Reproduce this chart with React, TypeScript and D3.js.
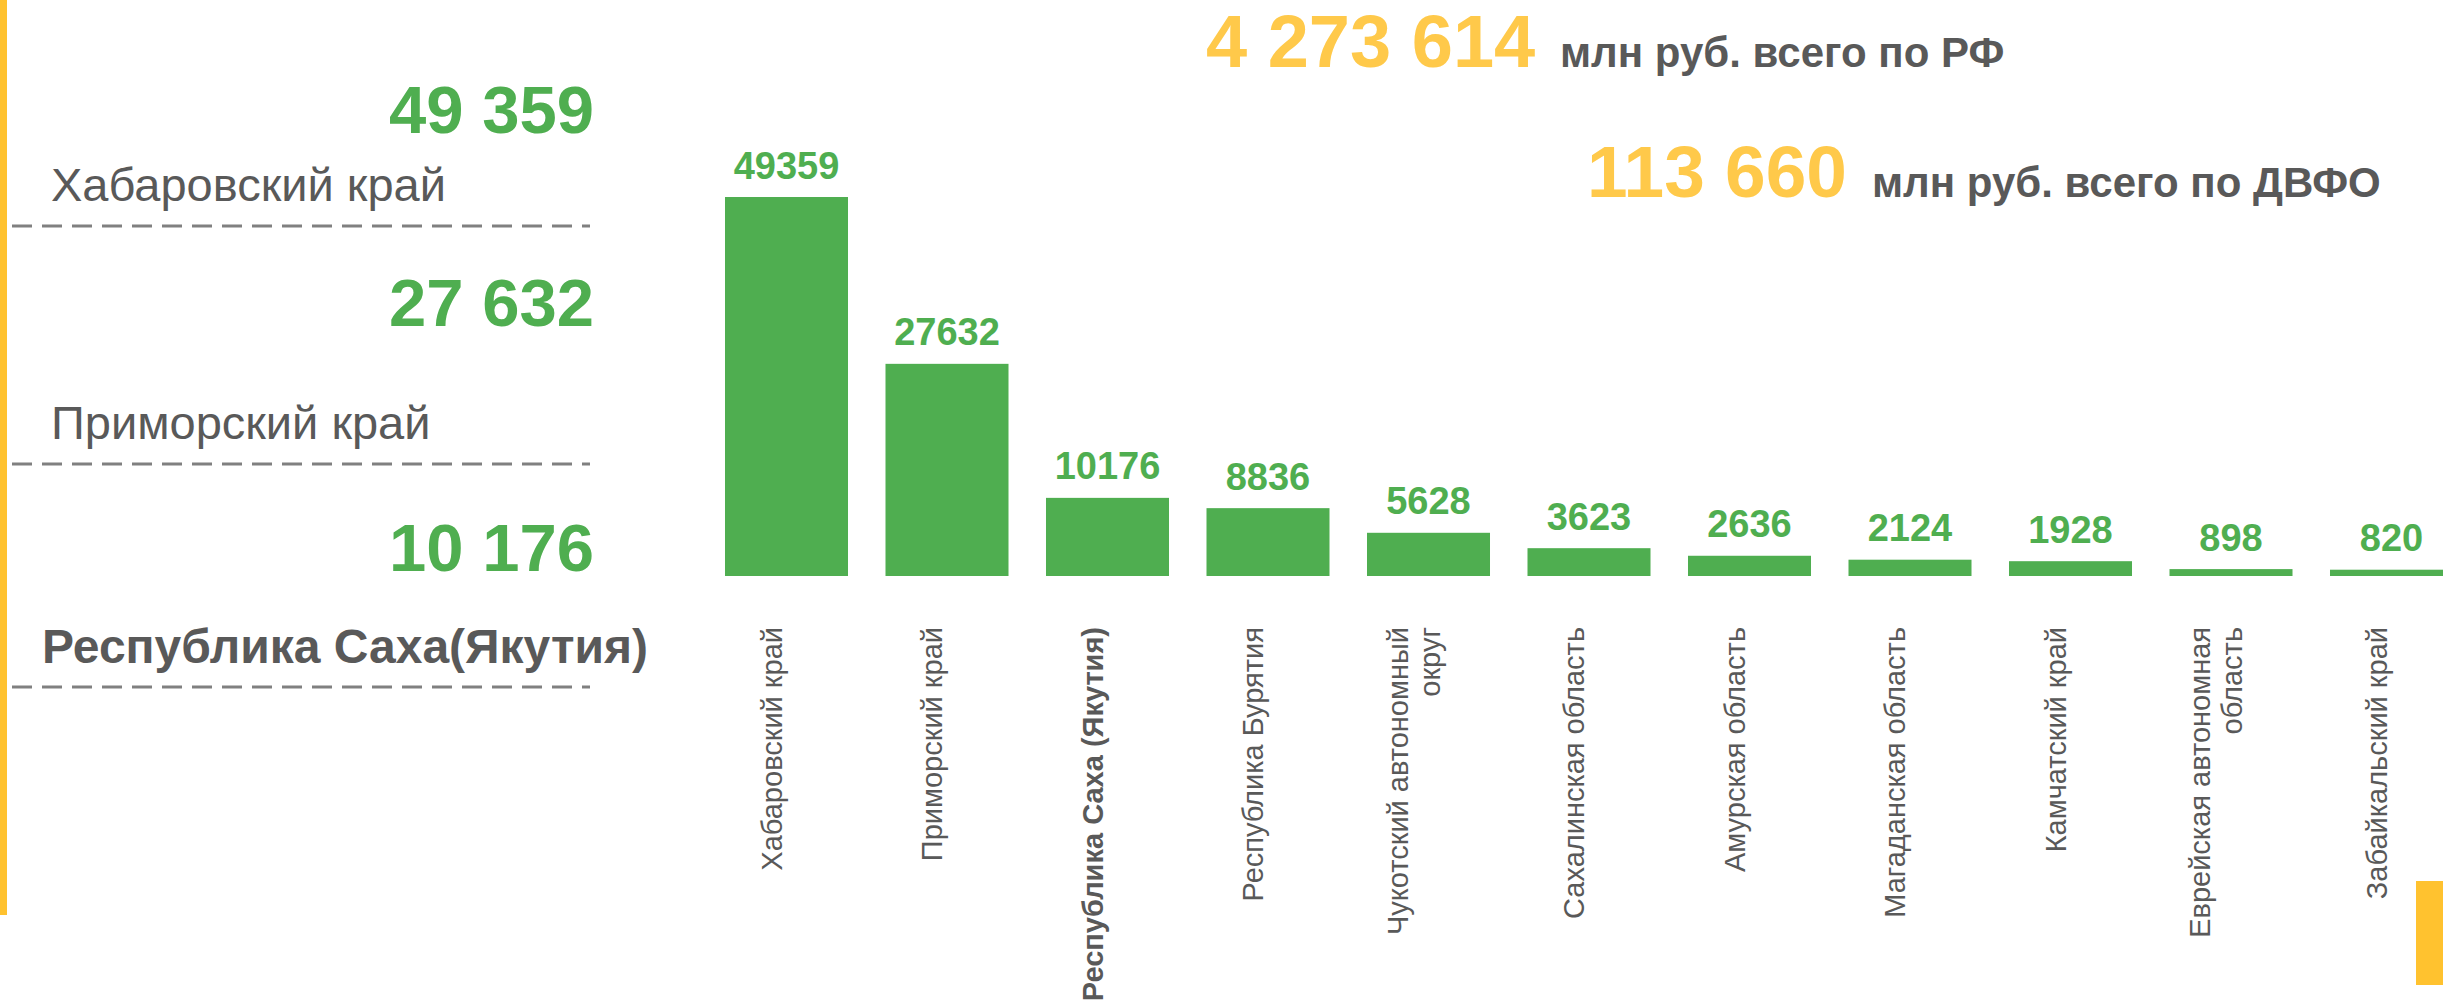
import React from "react";
import * as d3 from "d3";

// ---- data ----
const categories: string[] = [
  "Хабаровский край",
  "Приморский край",
  "Республика Саха (Якутия)",
  "Республика Бурятия",
  "Чукотский автономный\nокруг",
  "Сахалинская область",
  "Амурская область",
  "Магаданская область",
  "Камчатский край",
  "Еврейская автономная\nобласть",
  "Забайкальский край",
];
const values: number[] = [49359, 27632, 10176, 8836, 5628, 3623, 2636, 2124, 1928, 898, 820];
const highlightCategory = "Республика Саха (Якутия)";

const leaderNames: string[] = ["Хабаровский край", "Приморский край", "Республика Саха(Якутия)"];
const totalRF = 4273614;
const totalDFO = 113660;
const unitRF = "млн руб. всего по РФ";
const unitDFO = "млн руб. всего по ДВФО";

// ---- style ----
const W = 2443;
const H = 1003;
const GREEN = "#4FAE50";
const GREY = "#595959";
const DASH = "#808080";
const YELLOW_TEXT = "#FFC94A";
const YELLOW_BAR = "#FFC22F";
const FONT = "'Liberation Sans', Arial, Helvetica, sans-serif";

const ruLocale = d3.formatLocale({ decimal: ",", thousands: " ", grouping: [3], currency: ["", " ₽"] });
const fmtSpaced = ruLocale.format(",d");
const fmtPlain = d3.format("d");

export default function App() {
  const x = d3
    .scaleBand<string>()
    .domain(categories)
    .range([706.25, 706.25 + 160.5 * categories.length])
    .paddingInner(0.2336)
    .paddingOuter(0.1168);
  const y = d3.scaleLinear().domain([0, 55000]).range([576, 153.7]);

  const data = categories.map((c, i) => ({ cat: c, value: values[i] }));
  const leaders = [...data].sort((a, b) => b.value - a.value).slice(0, 3);

  const labelTop = 627;
  const labelShift = -15;
  const lineH = 32;

  // left panel layout rows
  const rows = [
    { valueY: 133, nameY: 201, dashY: 226 },
    { valueY: 326, nameY: 439, dashY: 464 },
    { valueY: 571, nameY: 663, dashY: 687 },
  ];

  return (
    <svg
      width={W}
      height={H}
      viewBox={`0 0 ${W} ${H}`}
      style={{ position: "absolute", left: 0, top: 0, background: "#fff" }}
      fontFamily={FONT}
    >
      <rect x={0} y={0} width={W} height={H} fill="#fff" />
      {/* decorative yellow strips */}
      <rect x={0} y={0} width={7} height={915} fill={YELLOW_BAR} />
      <rect x={2416} y={881} width={27} height={104} fill={YELLOW_BAR} />

      {/* header totals */}
      <text x={1206} y={67} fontSize={74} fontWeight="bold" fill={YELLOW_TEXT}>
        {fmtSpaced(totalRF)}
      </text>
      <text x={1560} y={67} fontSize={42} fontWeight="bold" fill={GREY}>
        {unitRF}
      </text>
      <text x={1587} y={197} fontSize={73} fontWeight="bold" fill={YELLOW_TEXT}>
        {fmtSpaced(totalDFO)}
      </text>
      <text x={1872} y={197} fontSize={42} fontWeight="bold" fill={GREY}>
        {unitDFO}
      </text>

      {/* left panel: top-3 leaders */}
      {leaders.map((d, i) => {
        const r = rows[i];
        const bold = d.cat === highlightCategory;
        return (
          <g key={d.cat}>
            <text x={594} y={r.valueY} fontSize={67} fontWeight="bold" fill={GREEN} textAnchor="end">
              {fmtSpaced(d.value)}
            </text>
            <text
              x={bold ? 42 : 51}
              y={r.nameY}
              fontSize={bold ? 48 : 47}
              fontWeight={bold ? "bold" : "normal"}
              fill={GREY}
            >
              {leaderNames[i]}
            </text>
            <line
              x1={12}
              x2={590}
              y1={r.dashY}
              y2={r.dashY}
              stroke={DASH}
              strokeWidth={3}
              strokeDasharray="20 10"
            />
          </g>
        );
      })}

      {/* bars */}
      {data.map((d) => (
        <rect
          key={d.cat}
          x={x(d.cat)!}
          y={y(d.value)}
          width={x.bandwidth()}
          height={y(0) - y(d.value)}
          fill={GREEN}
        />
      ))}

      {/* value labels */}
      {data.map((d) => (
        <text
          key={"v" + d.cat}
          x={x(d.cat)! + x.bandwidth() / 2}
          y={y(d.value) - 18.5}
          fontSize={38}
          fontWeight="bold"
          fill={GREEN}
          textAnchor="middle"
        >
          {fmtPlain(d.value)}
        </text>
      ))}

      {/* category labels */}
      {data.map((d) => {
        const lines = d.cat.split("\n");
        const cx = x(d.cat)! + x.bandwidth() / 2 + labelShift;
        const bold = d.cat === highlightCategory;
        return (
          <text
            key={"c" + d.cat}
            transform={`translate(${cx},${labelTop}) rotate(-90)`}
            fontSize={29}
            fontWeight={bold ? "bold" : "normal"}
            fill={GREY}
            textAnchor="end"
            dominantBaseline="central"
          >
            {lines.map((ln, i) => (
              <tspan key={i} x={0} y={(i - (lines.length - 1) / 2) * lineH}>
                {ln}
              </tspan>
            ))}
          </text>
        );
      })}
    </svg>
  );
}
